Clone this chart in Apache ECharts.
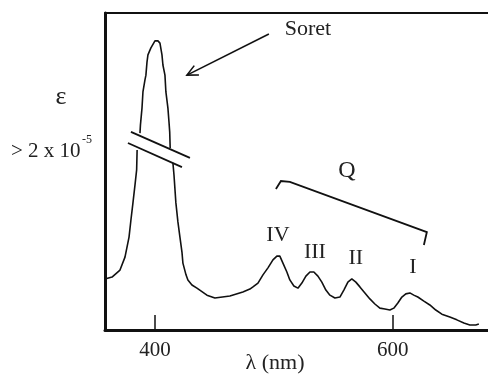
<!DOCTYPE html>
<html>
<head>
<meta charset="utf-8">
<script src="https://cdn.jsdelivr.net/npm/echarts@6/dist/echarts.min.js"></script>
<style>
  html, body { margin: 0; padding: 0; background: #fff; }
  #chart { width: 488px; height: 376px; }
</style>
</head>
<body>
<div id="chart"></div>
<script>
// absorption spectrum, wavelength in nm, absorbance in relative units
// null = curve interrupted by the axis break on the Soret band
const wavelength = [
  358.0, 363.9, 370.6, 374.8, 378.2, 379.8, 381.5, 383.2, 384.6, 385.0,
  386.2,
  387.4, 387.8, 389.1, 389.9, 391.6, 392.4, 393.3, 394.1, 396.6, 400.0,
  402.5, 404.2, 405.9, 406.7, 408.4, 409.2, 410.9, 411.8, 412.4, 412.8,
  414.0,
  415.1, 416.0, 417.6, 419.3, 421.0, 422.7, 423.5, 426.1, 427.7, 431.1,
  435.3, 443.7, 450.4, 463.0, 473.9, 479.8, 482.4, 486.6, 490.8, 495.0,
  499.2, 502.5, 505.0, 507.6, 510.9, 513.4, 516.8, 520.2, 523.5, 526.9,
  530.3, 533.6, 537.0, 540.3, 543.7, 547.1, 551.3, 555.5, 558.8, 562.2,
  565.5, 568.9, 572.3, 576.5, 580.7, 584.9, 589.1, 593.3, 597.5, 600.8,
  604.2, 607.6, 610.9, 614.3, 617.6, 621.0, 626.1, 631.1, 636.1, 641.2,
  647.9, 653.8, 659.7, 664.7, 669.7, 672.3
];
const absorbance = [
  16.1, 16.7, 18.9, 23.0, 29.3, 34.7, 40.1, 45.7, 50.5, 56.8,
  null,
  62.1, 64.7, 70.0, 75.1, 78.9, 80.4, 84.5, 86.8, 89.0, 91.2,
  91.2, 90.5, 86.8, 83.6, 80.4, 75.1, 70.0, 65.6, 62.5, 57.4,
  null,
  52.7, 48.9, 40.1, 34.1, 29.3, 24.6, 21.1, 17.4, 15.8, 14.2,
  13.2, 11.0, 10.1, 10.7, 12.0, 12.9, 13.6, 14.8, 17.4, 19.6,
  22.1, 23.3, 23.3, 21.1, 18.3, 15.8, 13.9, 13.2, 14.8, 17.0,
  18.3, 18.3, 17.0, 15.1, 12.6, 11.0, 10.1, 10.4, 12.6, 15.1,
  16.1, 15.1, 13.6, 11.7, 9.8, 8.2, 6.9, 6.6, 6.3, 6.9,
  8.5, 10.4, 11.4, 11.7, 11.0, 10.4, 9.1, 7.9, 6.3, 5.0,
  4.1, 3.2, 2.2, 1.6, 1.6, 1.9
];
const tickValues = [400, 600];
const bandNames = ["IV", "III", "II", "I"];

const serif = '"Liberation Serif", "DejaVu Serif", serif';
const ink = "#111";

var chart = echarts.init(document.getElementById("chart"));

const option = {
  animation: false,
  grid: { left: 105, right: 0, top: 13, bottom: 46 },
  xAxis: [
    {
      type: "value",
      min: 358,
      max: 680,
      splitLine: { show: false },
      axisLine: { lineStyle: { color: ink, width: 3 } },
      axisTick: {
        customValues: tickValues,
        inside: true,
        length: 15,
        lineStyle: { color: ink, width: 1.5 },
      },
      axisLabel: {
        customValues: tickValues,
        margin: 10,
        fontSize: 21,
        fontFamily: serif,
        color: "#222",
      },
    },
    {
      // top border of the frame
      type: "value",
      position: "top",
      min: 358,
      max: 680,
      axisLine: { show: true, lineStyle: { color: ink, width: 2 } },
      axisTick: { show: false },
      axisLabel: { show: false },
      splitLine: { show: false },
    },
  ],
  yAxis: {
    type: "value",
    min: 0,
    max: 100,
    axisLine: { show: true, lineStyle: { color: ink, width: 3 } },
    axisTick: { show: false },
    axisLabel: { show: false },
    splitLine: { show: false },
  },
  series: [
    {
      type: "line",
      showSymbol: false,
      connectNulls: false,
      lineStyle: { color: ink, width: 1.6 },
      data: wavelength.map((w, i) => [w, absorbance[i] === null ? "-" : absorbance[i]]),
    },
  ],
};
chart.setOption(option);

// annotations placed in data space
const px = (p) => chart.convertToPixel({ seriesIndex: 0 }, p);

function line(points, width) {
  return {
    type: "polyline",
    shape: { points: points.map(px) },
    style: { stroke: ink, lineWidth: width || 1.6, fill: null },
    z: 10,
  };
}
function text(str, x, y, size) {
  return {
    type: "text",
    x: x,
    y: y,
    style: {
      text: str,
      font: size + "px " + serif,
      fill: "#222",
      align: "center",
      verticalAlign: "middle",
    },
    z: 10,
  };
}
function dataText(str, p, size) {
  const q = px(p);
  return text(str, q[0], q[1], size);
}

const arrowFrom = px([495.8, 93.4]);
const arrowTo = px([426.9, 80.4]);
const ang = Math.atan2(arrowTo[1] - arrowFrom[1], arrowTo[0] - arrowFrom[0]);
const head = 12;
const arm1 = [arrowTo[0] - head * Math.cos(ang - 0.45), arrowTo[1] - head * Math.sin(ang - 0.45)];
const arm2 = [arrowTo[0] - head * Math.cos(ang + 0.45), arrowTo[1] - head * Math.sin(ang + 0.45)];

const bandPos = [[503.4, 30.0], [534.5, 24.6], [568.9, 22.7], [616.8, 19.9]];

chart.setOption({
  graphic: [
    dataText("Soret", [528.6, 95.0], 22),
    {
      type: "polyline",
      shape: { points: [arrowFrom, arrowTo] },
      style: { stroke: ink, lineWidth: 1.6 },
    },
    {
      type: "polyline",
      shape: { points: [arm1, arrowTo, arm2] },
      style: { stroke: ink, lineWidth: 1.6, fill: null },
    },
    // axis break marks
    line([[379.8, 62.5], [429.4, 54.3]], 1.8),
    line([[377.3, 59.0], [422.7, 51.4]], 1.8),
    // Q bracket
    line([[501.7, 44.5], [505.9, 47.0], [513.4, 46.7], [628.6, 30.9], [626.1, 26.8]], 1.8),
    dataText("Q", [561.3, 50.2], 24),
  ]
    .concat(bandNames.map((n, i) => dataText(n, bandPos[i], 22)))
    .concat([
      text("\u03b5", 61, 97, 26),
      {
        type: "text",
        x: 11,
        y: 151,
        style: { text: "> 2 x 10", font: "21px " + serif, fill: "#222", align: "left", verticalAlign: "middle" },
      },
      {
        type: "text",
        x: 82,
        y: 140,
        style: { text: "-5", font: "12px " + serif, fill: "#222", align: "left", verticalAlign: "middle" },
      },
      text("\u03bb (nm)", 275, 363, 22),
    ]),
});
</script>
</body>
</html>
